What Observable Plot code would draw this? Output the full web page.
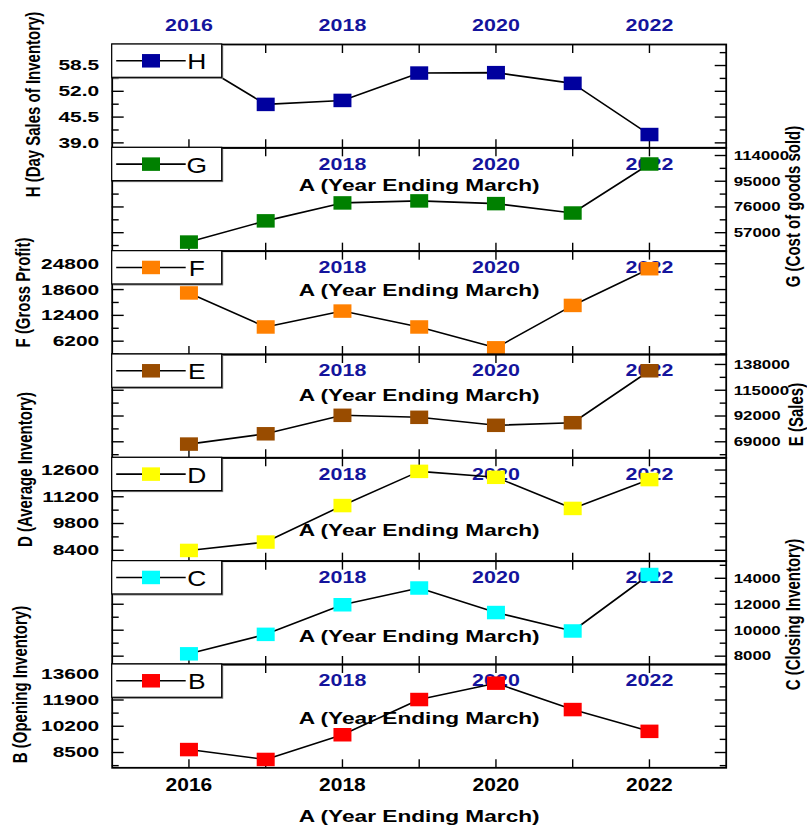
<!DOCTYPE html>
<html><head><meta charset="utf-8">
<script src="https://cdn.jsdelivr.net/npm/d3@7"></script>
<script src="https://cdn.jsdelivr.net/npm/@observablehq/plot@0.6"></script>
<style>
body{margin:0;background:#fff;}
#chart{position:relative;width:807px;height:827px;overflow:hidden;background:#fff;}
#chart svg{position:absolute;left:0;top:0;}
</style></head><body><div id="chart"></div>
<script>
// ---- data ----
const years = [2016, 2017, 2018, 2019, 2020, 2021, 2022];
const H = [60.4, 48.7, 49.7, 56.6, 56.7, 54.0, 41.1];
const G = [50060, 65730, 78980, 80470, 78460, 71520, 107730];
const F = [17790, 9610, 13430, 9610, 4600, 14790, 23610];
const E = [66950, 76140, 92620, 90840, 83700, 86020, 132380];
const D = [8390, 8830, 10740, 12530, 12220, 10590, 12100];
const C = [8180, 9680, 11960, 13250, 11360, 9940, 14290];
const B = [8690, 8050, 9650, 11930, 12990, 11280, 9870];
const xTickLabels = [2016, 2018, 2020, 2022];
const innerTickLabels = [2018, 2020, 2022];
const hTicks = [39.0, 45.5, 52.0, 58.5];
const gTicks = [57000, 76000, 95000, 114000];
const fTicks = [6200, 12400, 18600, 24800];
const eTicks = [69000, 92000, 115000, 138000];
const dTicks = [8400, 9800, 11200, 12600];
const cTicks = [8000, 10000, 12000, 14000];
const bTicks = [8500, 10200, 11900, 13600];
const xTitle = "A (Year Ending March)";

// ---- layout ----
const W = 807, HT = 827, LEFT = 111.7, RIGHT = 725.7, FTOP = 44, FBOT = 767.3;
const PH = (FBOT - FTOP) / 7;
const BLUE = "#14149c";
const FONT = "'Liberation Sans', Arial, Helvetica, sans-serif";
const int = d3.format("d");

const panels = [
  {key:"H", values:H, ticks:hTicks, domain:[37.75, 63.8], side:"left", fmt:d3.format(".1f"), color:"#00009e", title:"H (Day Sales of Inventory)", titleX:33, titleY:104, aY:null},
  {key:"G", values:G, ticks:gTicks, domain:[43350, 119670], side:"right", fmt:int, color:"#008000", title:"G (Cost of goods sold)", titleX:793, titleY:206, aY:37.7},
  {key:"F", values:F, ticks:fTicks, domain:[3000, 27830], side:"left", fmt:int, color:"#ff8000", title:"F (Gross Profit)", titleX:23, titleY:292, aY:39.3},
  {key:"E", values:E, ticks:eTicks, domain:[54700, 146900], side:"right", fmt:int, color:"#994c00", title:"E (Sales)", titleX:796, titleY:414, aY:41},
  {key:"D", values:D, ticks:dTicks, domain:[7830, 13240], side:"left", fmt:int, color:"#ffff00", title:"D (Average Inventory)", titleX:25, titleY:469, aY:72.7},
  {key:"C", values:C, ticks:cTicks, domain:[7360, 15320], side:"right", fmt:int, color:"#00ffff", title:"C (Closing Inventory)", titleX:793, titleY:614, aY:76},
  {key:"B", values:B, ticks:bTicks, domain:[7510, 14200], side:"left", fmt:int, color:"#ff0000", title:"B (Opening Inventory)", titleX:20, titleY:684, aY:54.3}
];

// rectangular marker (wider than tall)
const rectSymbol = {
  draw(context, size) {
    const r = Math.sqrt(size / Math.PI);
    const h = r * 0.75;
    context.rect(-r, -h, 2 * r, 2 * h);
  }
};

const stretchMap = {15: 1.3, 15.5: 1.35, 13.5: 1.25, 16.5: 1.3, 16.2: 1.4, 17.5: 1.2};

const chart = document.getElementById("chart");

panels.forEach((p, i) => {
  const top = FTOP + i * PH, bottom = top + PH, mid = (top + bottom) / 2;
  const data = years.map((y, j) => ({year: y, value: p.values[j]}));
  const step = p.ticks[1] - p.ticks[0];
  const minor = [];
  p.ticks.forEach(t => [t - step / 2, t + step / 2].forEach(m => {
    if (m > p.domain[0] && m < p.domain[1] && !minor.some(v => Math.abs(v - m) < 1e-6)) minor.push(m);
  }));
  const tk = {tickFormat: () => "", fill: "none", label: null, strokeWidth: 1.4};
  const marks = [];
  // year labels (top axis for H, inner labels for others)
  marks.push(Plot.text(i === 0 ? xTickLabels : innerTickLabels, {x: d => d, text: d => String(d), frameAnchor: "top", dy: i === 0 ? -19 : 16.5,
    lineAnchor: "middle", textAnchor: "middle", fill: BLUE, fontSize: 16.5, fontWeight: "bold"}));
  if (p.aY != null) marks.push(Plot.text([xTitle], {text: d => d, frameAnchor: "top", dy: p.aY, lineAnchor: "middle",
    textAnchor: "middle", fill: "black", fontSize: 16.2, fontWeight: "bold"}));
  // y tick labels
  marks.push(Plot.text(p.ticks, {y: d => d, text: p.fmt, frameAnchor: p.side, dx: p.side === "left" ? -13 : 7.5,
    textAnchor: p.side === "left" ? "end" : "start", lineAnchor: "middle",
    fontSize: p.side === "left" ? 15.5 : 13.5, fontWeight: "bold", fill: "black"}));
  // y title
  marks.push(Plot.text([p.title], {text: d => d, frameAnchor: "left", dx: p.titleX - LEFT, dy: p.titleY - mid,
    rotate: -90, textAnchor: "middle", lineAnchor: "middle", fontSize: 15, fontWeight: "bold", fill: "black"}));
  // bottom axis labels
  if (i === panels.length - 1) {
    marks.push(Plot.text(xTickLabels, {x: d => d, text: d => String(d), frameAnchor: "bottom", dy: 17.7,
      lineAnchor: "middle", textAnchor: "middle", fontSize: 17.5, fontWeight: "bold", fill: "black"}));
    marks.push(Plot.text([xTitle], {text: d => d, frameAnchor: "bottom", dy: 49.4, lineAnchor: "middle",
      textAnchor: "middle", fontSize: 16.2, fontWeight: "bold", fill: "black"}));
  }
  // inward ticks
  marks.push(
    Plot.axisY({ticks: p.ticks, anchor: "left", tickSize: 12, dx: 12, ...tk}),
    Plot.axisY({ticks: minor, anchor: "left", tickSize: 7, dx: 7, ...tk}),
    Plot.axisY({ticks: p.ticks, anchor: "right", tickSize: 12, dx: -12, ...tk}),
    Plot.axisY({ticks: minor, anchor: "right", tickSize: 7, dx: -7, ...tk}),
    Plot.axisX({ticks: years, anchor: "top", tickSize: 8, dy: 8, ...tk}),
    Plot.axisX({ticks: years, anchor: "bottom", tickSize: 8, dy: -8, ...tk})
  );
  // data
  marks.push(
    Plot.line(data, {x: "year", y: "value", stroke: "black", strokeWidth: 1.6}),
    Plot.dot(data, {x: "year", y: "value", symbol: rectSymbol, r: 9, fill: p.color, stroke: "none"}),
    Plot.frame({stroke: "black", strokeWidth: 1.8})
  );

  const svg = Plot.plot({
    width: W, height: HT,
    marginTop: top, marginBottom: HT - bottom, marginLeft: LEFT, marginRight: W - RIGHT,
    x: {domain: [2015, 2023], label: null},
    y: {domain: p.domain, label: null},
    style: {background: "transparent", overflow: "visible", fontFamily: FONT, color: "black"},
    marks
  });

  // horizontal stretch of glyphs, as in the reference
  d3.select(svg).selectAll("text").each(function () {
    const t = this.getAttribute("transform") || "";
    let fs = null, el = this;
    while (el && el !== svg) {
      const a = el.getAttribute && el.getAttribute("font-size");
      if (a) { fs = parseFloat(a); break; }
      el = el.parentNode;
    }
    const s = stretchMap[fs] ?? 1.3;
    this.setAttribute("transform", t + (t.includes("rotate") ? ` scale(1,${s})` : ` scale(${s},1)`));
  });

  // legend box
  const g = d3.select(svg).append("g");
  const bw = 110, bh = 33.3, cy = top + 16.8;
  g.append("rect").attr("x", LEFT + 1.5).attr("y", top + 1.5).attr("width", bw).attr("height", bh).attr("fill", "#777");
  g.append("rect").attr("x", LEFT).attr("y", top).attr("width", bw).attr("height", bh)
    .attr("fill", "white").attr("stroke", "black").attr("stroke-width", 1.2);
  g.append("line").attr("x1", LEFT + 4.5).attr("x2", LEFT + 74).attr("y1", cy).attr("y2", cy)
    .attr("stroke", "black").attr("stroke-width", 1.6);
  g.append("rect").attr("x", LEFT + 30.3).attr("y", cy - 6.75).attr("width", 18).attr("height", 13.5).attr("fill", p.color);
  g.append("text").attr("transform", `translate(${LEFT + 85},${top + 25.3}) scale(1.2,1)`)
    .attr("font-size", 22).attr("font-family", FONT).attr("fill", "black").text(p.key);

  chart.appendChild(svg);
});
</script>
</body></html>
